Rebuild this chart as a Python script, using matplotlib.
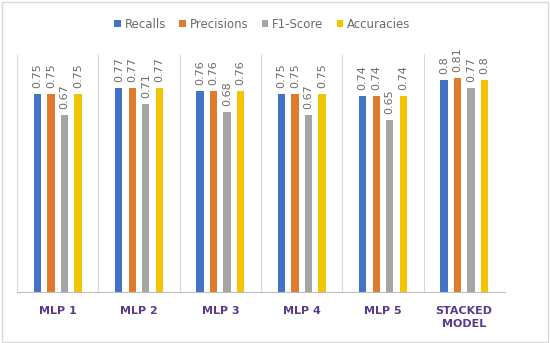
import numpy as np
import matplotlib
matplotlib.use("Agg")
import matplotlib.pyplot as plt
from matplotlib.patches import Rectangle

models = ["MLP 1", "MLP 2", "MLP 3", "MLP 4", "MLP 5", "STACKED\nMODEL"]
series = ["Recalls", "Precisions", "F1-Score", "Accuracies"]
recalls = [0.75, 0.77, 0.76, 0.75, 0.74, 0.8]
precisions = [0.75, 0.77, 0.76, 0.75, 0.74, 0.81]
f1_scores = [0.67, 0.71, 0.68, 0.67, 0.65, 0.77]
accuracies = [0.75, 0.77, 0.76, 0.75, 0.74, 0.8]

COLORS = ["#4472C4", "#E07B2E", "#A5A5A5", "#F2C500"]
_TXT = "#6b6b6b"
_CAT = "#5B3A8C"

fig = plt.figure(figsize=(5.5, 3.43), dpi=100)
ax = fig.add_axes([0.031, 0.149, 0.887, 0.694])

x = np.arange(len(models))
width = 0.09
step = 0.166
for i, (name, vals) in enumerate(zip(series, [recalls, precisions, f1_scores, accuracies])):
    pos = x + (i - 1.5) * step
    ax.bar(pos, vals, width, color=COLORS[i], label=name)
    for p, v in zip(pos, vals):
        ax.text(p, v + 0.022, f"{v:g}", rotation=90, ha="center", va="bottom",
                fontsize=8, color=_TXT)

ax.set_xlim(-0.5, len(models) - 0.5)
ax.set_ylim(0, 0.9)
ax.vlines(np.arange(len(models) + 1) - 0.5, 0, 0.9, color="#D9D9D9", linewidth=0.8)
for s in ["top", "left", "right"]:
    ax.spines[s].set_visible(False)
ax.spines["bottom"].set_color("#BFBFBF")
ax.set_yticks([])
ax.set_xticks(x)
ax.set_xticklabels(models, fontsize=8, fontweight="bold", color=_CAT, linespacing=1.35)
ax.tick_params(axis="x", length=0, pad=10)

fig.legend(loc="center", bbox_to_anchor=(0.477, 0.93), ncol=4, frameon=False,
           fontsize=8.5, handlelength=0.55, handleheight=0.6, handletextpad=0.35,
           columnspacing=1.1, labelcolor=_TXT)

fig.patches.append(Rectangle((0.003, 0.004), 0.994, 0.99, transform=fig.transFigure,
                             fill=False, edgecolor="#D9D9D9", linewidth=1))

fig.savefig("out.png", dpi=100)
